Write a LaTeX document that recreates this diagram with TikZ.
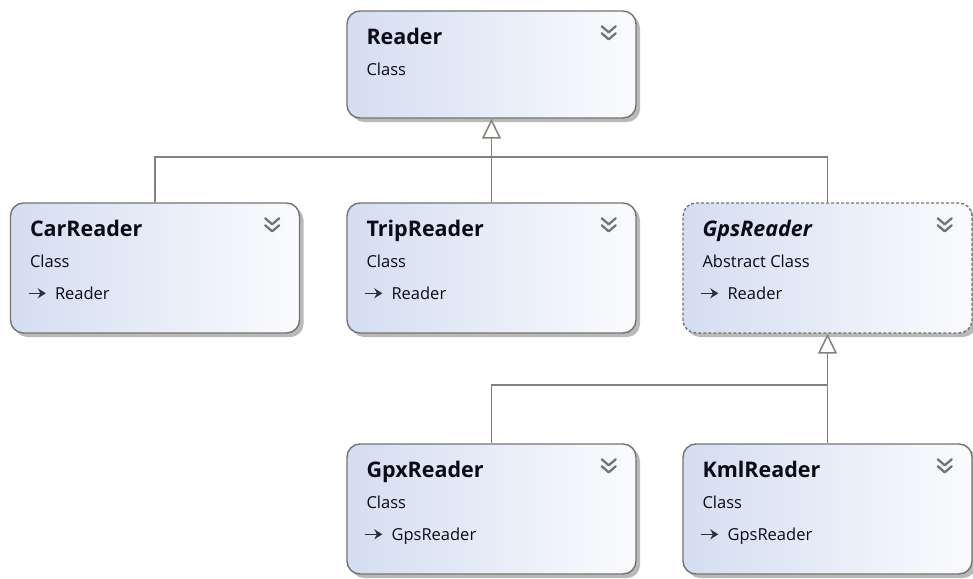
\documentclass[tikz,border=0pt]{standalone}
\usepackage{fontspec}
\setmainfont{Open Sans}
\usepackage{tikz}
\usetikzlibrary{arrows.meta, positioning, calc}
\definecolor{boxBlue}{RGB}{212, 221, 241}
\definecolor{boxWhite}{RGB}{250, 251, 253}
\definecolor{boxBorder}{RGB}{115, 115, 112}
\definecolor{lineGray}{RGB}{130, 130, 120}
\definecolor{shadowGray}{RGB}{185, 185, 185}
\definecolor{textDark}{RGB}{10, 10, 20}

\begin{document}
\begin{tikzpicture}[x=1pt, y=-1pt,
		cls_box/.style    = {draw=boxBorder, line width=1.4pt, rectangle, rounded corners=13pt,
			minimum width=289pt, minimum height=130pt, inner sep=0pt,
			left color=boxBlue, right color=boxWhite,
			preaction={fill=shadowGray, rounded corners=13pt, transform canvas={shift={(4pt,-4pt)}}}},
		cls_abstract/.style = {cls_box, dashed, dash pattern=on 3pt off 2pt},
		cls_title/.style  = {anchor=base west, inner sep=0pt, text=textDark, font=\fontsize{21.5}{24}\selectfont\bfseries},
		cls_kind/.style   = {anchor=base west, inner sep=0pt, text=textDark, font=\fontsize{16.5}{19}\selectfont},
		cls_parent/.style = {anchor=base west, inner sep=0pt, text=textDark, font=\fontsize{16.5}{19}\selectfont},
		chev/.style       = {draw=gray!90!black, line width=2.3pt, line cap=round, line join=round},
		icon/.style       = {draw=textDark!85, line width=1.6pt, -{Stealth[length=8pt, width=10pt]}},
		line/.style       = {draw=lineGray, line width=1.5pt},
		inherit/.style    = {line, -{Triangle[length=20pt, width=19pt, fill=white, line width=1.5pt]}}
		]
		\useasboundingbox (0,0) rectangle (973,578);
		
		\node[cls_box, minimum height=107pt] (reader) at (491.5, 64.5) {};
		\node[cls_box] (car)  at (155, 268) {};
		\node[cls_box] (trip) at (491.5, 268) {};
		\node[cls_abstract] (gps) at (827.5, 268) {};
		\node[cls_box] (gpx)  at (491.5, 509) {};
		\node[cls_box] (kml)  at (827.5, 509) {};
		
		% titles, kinds and base classes
		\node[cls_title] (reader_title) at ([shift={(20pt,-34pt)}]reader.north west) {Reader};
		\node[cls_kind]  (reader_kind)  at ([shift={(20pt,-65pt)}]reader.north west) {Class};
		
		\node[cls_title]  (car_title)  at ([shift={(20pt,-34pt)}]car.north west) {CarReader};
		\node[cls_kind]   (car_kind)   at ([shift={(20pt,-65pt)}]car.north west) {Class};
		\node[cls_parent] (car_parent) at ([shift={(45pt,-97pt)}]car.north west) {Reader};
		
		\node[cls_title]  (trip_title)  at ([shift={(20pt,-34pt)}]trip.north west) {TripReader};
		\node[cls_kind]   (trip_kind)   at ([shift={(20pt,-65pt)}]trip.north west) {Class};
		\node[cls_parent] (trip_parent) at ([shift={(45pt,-97pt)}]trip.north west) {Reader};
		
		\node[cls_title, font=\fontsize{21.5}{24}\selectfont\bfseries\itshape] (gps_title) at ([shift={(20pt,-34pt)}]gps.north west) {GpsReader};
		\node[cls_kind]   (gps_kind)   at ([shift={(20pt,-65pt)}]gps.north west) {Abstract Class};
		\node[cls_parent] (gps_parent) at ([shift={(45pt,-97pt)}]gps.north west) {Reader};
		
		\node[cls_title]  (gpx_title)  at ([shift={(20pt,-34pt)}]gpx.north west) {GpxReader};
		\node[cls_kind]   (gpx_kind)   at ([shift={(20pt,-65pt)}]gpx.north west) {Class};
		\node[cls_parent] (gpx_parent) at ([shift={(45pt,-97pt)}]gpx.north west) {GpsReader};
		
		\node[cls_title]  (kml_title)  at ([shift={(20pt,-34pt)}]kml.north west) {KmlReader};
		\node[cls_kind]   (kml_kind)   at ([shift={(20pt,-65pt)}]kml.north west) {Class};
		\node[cls_parent] (kml_parent) at ([shift={(45pt,-97pt)}]kml.north west) {GpsReader};
		
		% base class arrows and collapse chevrons
		\foreach \b in {car, trip, gps, gpx, kml} {
			\draw[icon] ([xshift=-26pt, yshift=6pt]\b_parent.base west) -- ++(17pt,0);
		}
		\foreach \b in {reader, car, trip, gps, gpx, kml} {
			\draw[chev] ([shift={(-35pt,-16pt)}]\b.north east) -- ++(7pt,-6pt) -- ++(7pt,6pt);
			\draw[chev] ([shift={(-35pt,-23pt)}]\b.north east) -- ++(7pt,-6pt) -- ++(7pt,6pt);
		}
		
		\coordinate (bus_top) at (491.5, 157);
		\coordinate (bus_gps) at (827.5, 385);
		
		\draw[inherit] (trip.north) -- (reader.south);
		\draw[line] (car.north) |- (bus_top) -| (gps.north);
		\draw[inherit] (kml.north) -- (gps.south);
		\draw[line] (gpx.north) |- (bus_gps);
	\end{tikzpicture}
\end{document}
